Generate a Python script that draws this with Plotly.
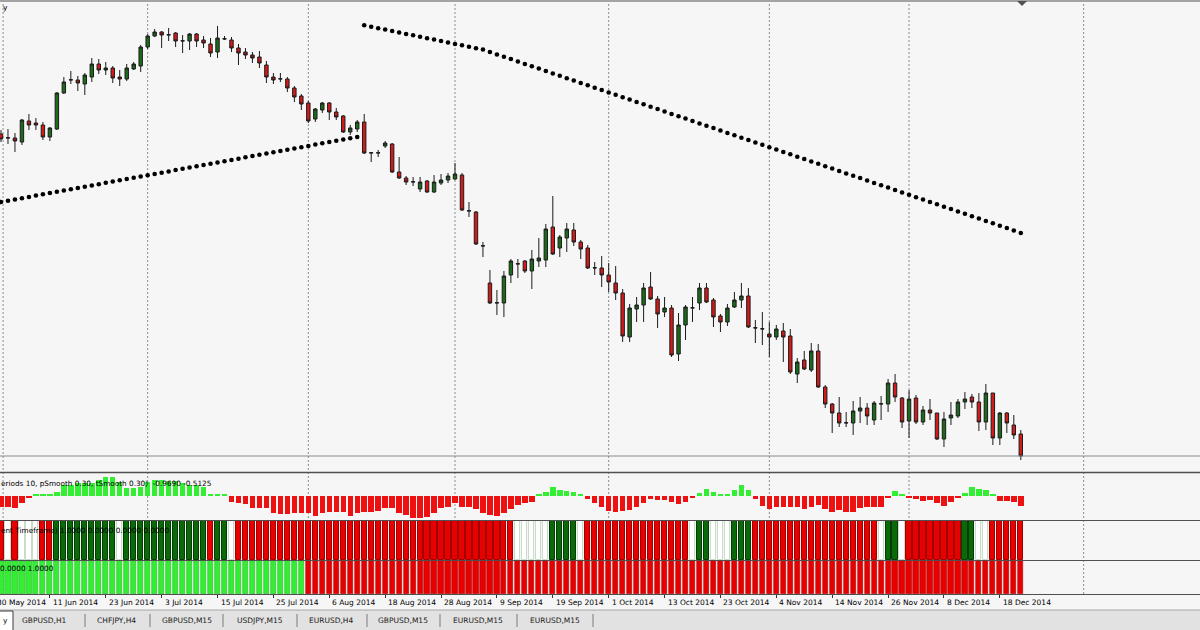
import plotly.graph_objects as go

# ---------------- data (GBPUSD daily, bar index 1 = 2 Jun 2014) ----------------
bar_idx = list(range(1, 148))

open_ = [1.6764, 1.6748, 1.6748, 1.6732, 1.6816, 1.6808, 1.6800, 1.6752, 1.6784, 1.6928,
         1.6980, 1.6980, 1.6964, 1.6992, 1.7044, 1.7020, 1.7028, 1.6992, 1.6984, 1.7024,
         1.7036, 1.7112, 1.7156, 1.7172, 1.7160, 1.7168, 1.7136, 1.7136, 1.7164, 1.7140,
         1.7124, 1.7092, 1.7144, 1.7140, 1.7108, 1.7092, 1.7080, 1.7072, 1.7040, 1.6992,
         1.6984, 1.6984, 1.6948, 1.6916, 1.6888, 1.6824, 1.6860, 1.6888, 1.6852, 1.6836,
         1.6772, 1.6784, 1.6812, 1.6688, 1.6688, 1.6716, 1.6724, 1.6612, 1.6588, 1.6572,
         1.6544, 1.6576, 1.6532, 1.6568, 1.6580, 1.6584, 1.6600, 1.6456, 1.6452, 1.6316,
         1.6168, 1.6088, 1.6088, 1.6200, 1.6244, 1.6256, 1.6216, 1.6256, 1.6260, 1.6392,
         1.6308, 1.6348, 1.6380, 1.6332, 1.6308, 1.6228, 1.6228, 1.6200, 1.6168, 1.6128,
         1.5952, 1.6064, 1.6080, 1.6152, 1.6104, 1.6052, 1.6068, 1.5884, 1.6000, 1.6068,
         1.6088, 1.6148, 1.6100, 1.6036, 1.6012, 1.6072, 1.6100, 1.6116, 1.5988, 1.5984,
         1.5964, 1.5952, 1.5976, 1.5956, 1.5804, 1.5860, 1.5820, 1.5896, 1.5752, 1.5684,
         1.5648, 1.5608, 1.5608, 1.5656, 1.5668, 1.5620, 1.5684, 1.5684, 1.5768, 1.5708,
         1.5616, 1.5708, 1.5612, 1.5660, 1.5648, 1.5544, 1.5628, 1.5636, 1.5692, 1.5712,
         1.5692, 1.5612, 1.5728, 1.5548, 1.5648, 1.5600, 1.5564]

high = [1.6780, 1.6784, 1.6768, 1.6824, 1.6844, 1.6828, 1.6812, 1.6792, 1.6932, 1.6992,
        1.7016, 1.6996, 1.7008, 1.7068, 1.7064, 1.7052, 1.7036, 1.7020, 1.7044, 1.7052,
        1.7120, 1.7164, 1.7184, 1.7176, 1.7188, 1.7172, 1.7160, 1.7168, 1.7168, 1.7156,
        1.7148, 1.7196, 1.7156, 1.7152, 1.7124, 1.7108, 1.7092, 1.7096, 1.7056, 1.7008,
        1.7008, 1.6992, 1.6956, 1.6924, 1.6896, 1.6868, 1.6892, 1.6892, 1.6868, 1.6840,
        1.6800, 1.6820, 1.6844, 1.6692, 1.6700, 1.6736, 1.6728, 1.6672, 1.6596, 1.6592,
        1.6592, 1.6580, 1.6600, 1.6604, 1.6608, 1.6648, 1.6608, 1.6492, 1.6456, 1.6332,
        1.6220, 1.6140, 1.6216, 1.6264, 1.6264, 1.6260, 1.6300, 1.6348, 1.6404, 1.6516,
        1.6360, 1.6408, 1.6408, 1.6340, 1.6320, 1.6252, 1.6276, 1.6248, 1.6236, 1.6144,
        1.6084, 1.6112, 1.6168, 1.6212, 1.6116, 1.6112, 1.6080, 1.6048, 1.6080, 1.6112,
        1.6168, 1.6168, 1.6108, 1.6044, 1.6084, 1.6132, 1.6168, 1.6148, 1.6020, 1.6052,
        1.6012, 1.6000, 1.6008, 1.5984, 1.5868, 1.5896, 1.5928, 1.5924, 1.5760, 1.5688,
        1.5712, 1.5652, 1.5696, 1.5712, 1.5688, 1.5696, 1.5716, 1.5784, 1.5804, 1.5712,
        1.5740, 1.5720, 1.5676, 1.5704, 1.5648, 1.5652, 1.5692, 1.5704, 1.5732, 1.5724,
        1.5728, 1.5764, 1.5728, 1.5652, 1.5652, 1.5640, 1.5580]

low = [1.6732, 1.6724, 1.6692, 1.6720, 1.6780, 1.6780, 1.6740, 1.6736, 1.6780, 1.6924,
       1.6964, 1.6936, 1.6920, 1.6972, 1.7004, 1.7000, 1.6968, 1.6956, 1.6976, 1.7020,
       1.7012, 1.7104, 1.7152, 1.7108, 1.7136, 1.7112, 1.7088, 1.7100, 1.7112, 1.7108,
       1.7072, 1.7068, 1.7140, 1.7092, 1.7040, 1.7064, 1.7048, 1.7028, 1.6968, 1.6964,
       1.6972, 1.6932, 1.6892, 1.6860, 1.6808, 1.6812, 1.6848, 1.6820, 1.6820, 1.6768,
       1.6760, 1.6772, 1.6684, 1.6652, 1.6672, 1.6708, 1.6608, 1.6584, 1.6560, 1.6556,
       1.6532, 1.6528, 1.6528, 1.6560, 1.6568, 1.6580, 1.6456, 1.6432, 1.6320, 1.6272,
       1.6084, 1.6040, 1.6032, 1.6168, 1.6188, 1.6208, 1.6144, 1.6232, 1.6232, 1.6280,
       1.6272, 1.6292, 1.6316, 1.6264, 1.6224, 1.6200, 1.6152, 1.6132, 1.6100, 1.5932,
       1.5932, 1.6012, 1.6012, 1.6100, 1.5988, 1.6032, 1.5872, 1.5856, 1.5940, 1.6012,
       1.6060, 1.6088, 1.5992, 1.5972, 1.5996, 1.6068, 1.6068, 1.5988, 1.5928, 1.5920,
       1.5872, 1.5940, 1.5852, 1.5804, 1.5768, 1.5820, 1.5812, 1.5748, 1.5668, 1.5568,
       1.5592, 1.5592, 1.5560, 1.5608, 1.5600, 1.5600, 1.5620, 1.5652, 1.5692, 1.5588,
       1.5548, 1.5604, 1.5600, 1.5620, 1.5540, 1.5512, 1.5600, 1.5628, 1.5664, 1.5668,
       1.5576, 1.5580, 1.5520, 1.5520, 1.5568, 1.5544, 1.5460]

close = [1.6744, 1.6749, 1.6736, 1.6820, 1.6800, 1.6800, 1.6752, 1.6788, 1.6928, 1.6972,
         1.6981, 1.6968, 1.7000, 1.7044, 1.7020, 1.7028, 1.6988, 1.6984, 1.7028, 1.7044,
         1.7112, 1.7156, 1.7172, 1.7160, 1.7161, 1.7136, 1.7137, 1.7164, 1.7136, 1.7128,
         1.7088, 1.7148, 1.7145, 1.7108, 1.7088, 1.7080, 1.7068, 1.7048, 1.6992, 1.6980,
         1.6985, 1.6948, 1.6912, 1.6884, 1.6816, 1.6864, 1.6888, 1.6852, 1.6832, 1.6772,
         1.6788, 1.6812, 1.6688, 1.6689, 1.6689, 1.6728, 1.6612, 1.6588, 1.6572, 1.6573,
         1.6572, 1.6532, 1.6572, 1.6580, 1.6596, 1.6604, 1.6460, 1.6457, 1.6324, 1.6317,
         1.6088, 1.6089, 1.6196, 1.6256, 1.6245, 1.6216, 1.6264, 1.6268, 1.6384, 1.6284,
         1.6352, 1.6384, 1.6332, 1.6304, 1.6228, 1.6229, 1.6200, 1.6172, 1.6128, 1.5956,
         1.6068, 1.6080, 1.6148, 1.6104, 1.6044, 1.6068, 1.5880, 1.6000, 1.6072, 1.6069,
         1.6148, 1.6092, 1.6032, 1.6012, 1.6068, 1.6100, 1.6116, 1.5992, 1.5989, 1.5985,
         1.5952, 1.5984, 1.5952, 1.5812, 1.5852, 1.5824, 1.5896, 1.5752, 1.5684, 1.5648,
         1.5608, 1.5609, 1.5656, 1.5668, 1.5636, 1.5688, 1.5685, 1.5768, 1.5712, 1.5612,
         1.5704, 1.5612, 1.5660, 1.5648, 1.5544, 1.5624, 1.5640, 1.5692, 1.5704, 1.5692,
         1.5612, 1.5728, 1.5548, 1.5648, 1.5608, 1.5560, 1.5476]

# dotted indicator (one dot per bar)
signal_dots = [1.6492, 1.6497, 1.6502, 1.6507, 1.6512, 1.6518, 1.6523, 1.6528, 1.6533, 1.6538,
               1.6543, 1.6548, 1.6553, 1.6558, 1.6563, 1.6569, 1.6574, 1.6579, 1.6584, 1.6589,
               1.6594, 1.6599, 1.6604, 1.6609, 1.6614, 1.6620, 1.6625, 1.6630, 1.6635, 1.6640,
               1.6645, 1.6650, 1.6655, 1.6660, 1.6665, 1.6671, 1.6676, 1.6681, 1.6686, 1.6691,
               1.6696, 1.6701, 1.6706, 1.6711, 1.6716, 1.6722, 1.6727, 1.6732, 1.6737, 1.6742,
               1.6747, 1.6752, 1.7199, 1.7193, 1.7187, 1.7182, 1.7176, 1.7170, 1.7164, 1.7159,
               1.7153, 1.7147, 1.7142, 1.7136, 1.7130, 1.7124, 1.7119, 1.7113, 1.7107, 1.7102,
               1.7092, 1.7082, 1.7073, 1.7064, 1.7054, 1.7044, 1.7035, 1.7026, 1.7016, 1.7006,
               1.6997, 1.6987, 1.6978, 1.6968, 1.6959, 1.6949, 1.6940, 1.6930, 1.6921, 1.6911,
               1.6902, 1.6892, 1.6883, 1.6873, 1.6864, 1.6854, 1.6844, 1.6835, 1.6826, 1.6816,
               1.6806, 1.6797, 1.6788, 1.6778, 1.6768, 1.6759, 1.6749, 1.6740, 1.6730, 1.6721,
               1.6711, 1.6702, 1.6692, 1.6683, 1.6673, 1.6664, 1.6654, 1.6645, 1.6635, 1.6626,
               1.6616, 1.6606, 1.6597, 1.6588, 1.6578, 1.6568, 1.6559, 1.6550, 1.6540, 1.6530,
               1.6521, 1.6511, 1.6502, 1.6492, 1.6483, 1.6473, 1.6464, 1.6454, 1.6445, 1.6435,
               1.6426, 1.6416, 1.6407, 1.6397, 1.6388, 1.6378, 1.6368]

# oscillator histogram (panel 2)
osc = [-0.57, -0.53, -0.58, -0.37, -0.06, 0.10, 0.10, 0.10, 0.22, 0.55,
       0.55, 0.63, 0.63, 0.63, 0.80, 0.97, 0.93, 0.72, 0.38, 0.38,
       0.47, 0.72, 0.80, 0.80, 0.77, 0.77, 0.63, 0.55, 0.55, 0.47,
       0.06, 0.06, 0.06, -0.28, -0.33, -0.42, -0.58, -0.58, -0.62, -0.87,
       -0.92, -0.92, -0.87, -0.87, -0.87, -0.98, -0.83, -0.78, -0.78, -0.78,
       -1.00, -0.87, -0.78, -0.78, -0.73, -0.62, -0.62, -0.87, -0.95, -1.08,
       -1.08, -1.03, -0.87, -0.62, -0.53, -0.37, -0.53, -0.53, -0.67, -0.87,
       -0.95, -1.00, -0.87, -0.67, -0.45, -0.37, -0.28, 0.06, 0.22, 0.43,
       0.30, 0.25, 0.22, 0.06, -0.15, -0.37, -0.53, -0.73, -0.78, -0.73,
       -0.70, -0.53, -0.37, -0.17, -0.20, -0.20, -0.32, -0.42, -0.28, -0.06,
       0.13, 0.35, 0.22, 0.10, 0.10, 0.30, 0.55, 0.32, -0.15, -0.48,
       -0.67, -0.57, -0.53, -0.53, -0.57, -0.65, -0.53, -0.45, -0.67, -0.78,
       -0.70, -0.78, -0.78, -0.62, -0.57, -0.57, -0.53, -0.06, 0.27, 0.06,
       -0.07, -0.17, -0.23, -0.20, -0.37, -0.48, -0.28, -0.12, 0.13, 0.43,
       0.33, 0.30, 0.06, -0.23, -0.23, -0.28, -0.51]

# panel 3 state per bar (R = down, G = up, W = neutral)
trend_state = ("RWRWWWRR" "GGGGGGGGG" "W" "GGGGGGGGGGGG" "RGGW"
               "RRRRRRRRRRRRRRRRRRRR" "RRRRRRRRRRRRRRRRRRRR"
               "WWWWW" "GGGG" "W" "RRRRRRRRRRRRRRR" "W" "GG" "WWW" "GGG"
               "RRRRRRRRRRRRRRRRRR" "W" "GG" "W" "RRRRRRRR" "GG" "WW" "RRRRR")
# panel 4 state per bar
tf_state = ("GGGGGGGGGGGGGGGGGGGGGG" "GGGGGGGGGGGGGGGGGGGGGG"
            "RRRRRRRRRRRRRRRRRRRRRRRRRR" "RRRRRRRRRRRRRRRRRRRRRRRRRR"
            "RRRRRRRRRRRRRRRRRRRRRRRRRR" "RRRRRRRRRRRRRRRRRRRRRRRRR")

date_idx = [0, 8, 16, 24, 32, 40, 48, 56, 64, 72, 80, 88, 96, 104, 112, 120, 128, 136, 144]
date_labels = ["30 May 2014", "11 Jun 2014", "23 Jun 2014", "3 Jul 2014", "15 Jul 2014",
               "25 Jul 2014", "6 Aug 2014", "18 Aug 2014", "28 Aug 2014", "9 Sep 2014",
               "19 Sep 2014", "1 Oct 2014", "13 Oct 2014", "23 Oct 2014", "4 Nov 2014",
               "14 Nov 2014", "26 Nov 2014", "8 Dec 2014", "18 Dec 2014"]
month_start_idx = [1.3, 22, 45, 66, 88, 111, 131, 156]

tab_labels = ["GBPUSD,H1", "CHFJPY,H4", "GBPUSD,M15", "USDJPY,M15",
              "EURUSD,H4", "GBPUSD,M15", "EURUSD,M15", "EURUSD,M15"]
osc_caption = "eriods 10, pSmooth 0.30, tSmooth 0.30)  -0.9690 -0.5125"
trend_caption = "ent Timeframe) 1.0000 0.0000 0.0000 0.0000"
tf_caption = "0.0000 1.0000"
title_tail = "y"

# ---------------- geometry ----------------
W, H = 1200, 630
PX_PER_BAR = 6.985
X0 = -6.0


def fx(px):
    return px / W


def fy(py):
    return 1 - py / H


def bar_px(i):
    return X0 + PX_PER_BAR * i


xr = [(0 - X0) / PX_PER_BAR, (W - X0) / PX_PER_BAR]
FONT = "DejaVu Sans"

fig = go.Figure()

# candles
fig.add_trace(go.Candlestick(
    x=bar_idx, open=open_, high=high, low=low, close=close,
    increasing=dict(fillcolor="#1b6b1b", line=dict(color="#1c1c1c", width=1)),
    decreasing=dict(fillcolor="#d21a1a", line=dict(color="#1c1c1c", width=1)),
    whiskerwidth=0, xaxis="x", yaxis="y", showlegend=False, hoverinfo="skip"))

# dotted indicator
fig.add_trace(go.Scatter(
    x=bar_idx, y=signal_dots, mode="markers",
    marker=dict(size=4.6, color="#000000"), xaxis="x", yaxis="y",
    showlegend=False, hoverinfo="skip"))

# panel 2 oscillator
fig.add_trace(go.Bar(
    x=bar_idx, y=osc, width=0.78,
    marker=dict(color=["#33ee33" if v > 0 else "#ee1111" for v in osc], line=dict(width=0)),
    xaxis="x2", yaxis="y2", showlegend=False, hoverinfo="skip"))

# panel 3
fill3 = {"R": "#e60000", "G": "#0a6a0a", "W": "#ffffff"}
edge3 = {"R": "#a00000", "G": "#033d03", "W": "#c8dcc8"}
fig.add_trace(go.Bar(
    x=bar_idx, y=[1 for s in trend_state], width=0.74,
    marker=dict(color=[fill3[s] for s in trend_state],
                line=dict(color=[edge3[s] for s in trend_state], width=1)),
    xaxis="x3", yaxis="y3", showlegend=False, hoverinfo="skip"))

# panel 4
fill4 = {"R": "#e60000", "G": "#33ee33"}
edge4 = {"R": "#b00000", "G": "#22b822"}
fig.add_trace(go.Bar(
    x=bar_idx, y=[1 for s in tf_state], width=0.74,
    marker=dict(color=[fill4[s] for s in tf_state],
                line=dict(color=[edge4[s] for s in tf_state], width=0.6)),
    xaxis="x4", yaxis="y4", showlegend=False, hoverinfo="skip"))

hidden = dict(showgrid=False, zeroline=False, showticklabels=False, showline=False, ticks="")
fig.update_layout(
    width=W, height=H, margin=dict(l=0, r=0, t=0, b=0),
    paper_bgcolor="#f6f6f6", plot_bgcolor="rgba(0,0,0,0)",
    showlegend=False, bargap=0,
    xaxis=dict(range=xr, domain=[0, 1], anchor="y", rangeslider=dict(visible=False), **hidden),
    xaxis2=dict(range=xr, domain=[0, 1], anchor="y2", matches="x", **hidden),
    xaxis3=dict(range=xr, domain=[0, 1], anchor="y3", matches="x", **hidden),
    xaxis4=dict(range=xr, domain=[0, 1], anchor="y4", matches="x",
                showgrid=False, zeroline=False, showticklabels=False, showline=False,
                ticks="outside", tickvals=date_idx, ticklen=3, tickwidth=1, tickcolor="#333333"),
    yaxis=dict(range=[1.73 - 0.0004 * 472, 1.73 - 0.0004 * 2], domain=[fy(472), fy(2)], **hidden),
    yaxis2=dict(range=[-1.2, 1.15], domain=[fy(520), fy(473)], **hidden),
    yaxis3=dict(range=[0, 1], domain=[fy(560), fy(521)], **hidden),
    yaxis4=dict(range=[0, 1], domain=[fy(594), fy(561)], **hidden),
)

shapes = []
# vertical dotted grid (month starts)
for m in month_start_idx:
    shapes.append(dict(type="line", xref="x", yref="paper", x0=m, x1=m, y0=fy(594), y1=fy(2),
                       line=dict(color="#8c8c8c", width=1, dash="2px,2px"), layer="below"))
# bid line
shapes.append(dict(type="line", xref="paper", yref="y", x0=0, x1=1, y0=close[-1], y1=close[-1],
                   line=dict(color="#8a8a8a", width=1)))
# panel borders
for py, w in [(1, 1.2), (472.5, 1.6), (520.5, 1.2), (560.5, 1.2), (594.5, 1.2)]:
    shapes.append(dict(type="line", xref="paper", yref="paper", x0=0, x1=1, y0=fy(py), y1=fy(py),
                       line=dict(color="#505050", width=w)))
# chart shift marker
shapes.append(dict(type="path", xref="paper", yref="paper",
                   path=f"M {fx(1017)} {fy(1)} L {fx(1027)} {fy(1)} L {fx(1022)} {fy(6)} Z",
                   fillcolor="#505050", line=dict(width=0)))
# tab bar
shapes.append(dict(type="rect", xref="paper", yref="paper", x0=0, x1=1, y0=0, y1=fy(610),
                   fillcolor="#e2e2e2", line=dict(width=0)))
shapes.append(dict(type="line", xref="paper", yref="paper", x0=0, x1=1, y0=fy(610), y1=fy(610),
                   line=dict(color="#a8a8a8", width=1)))
shapes.append(dict(type="rect", xref="paper", yref="paper", x0=fx(-2), x1=fx(13), y0=fy(631), y1=fy(611),
                   fillcolor="#ffffff", line=dict(color="#3c3c3c", width=1)))
tab_centers = [44, 116, 187, 260, 331, 403, 478, 555]
tab_seps = [85, 150, 223, 297, 367, 440, 517, 593]
for s in tab_seps:
    shapes.append(dict(type="line", xref="paper", yref="paper", x0=fx(s), x1=fx(s), y0=fy(627), y1=fy(614),
                       line=dict(color="#7a7a7a", width=1)))
fig.update_layout(shapes=shapes)

ann = []
for i, lab in zip(date_idx, date_labels):
    ann.append(dict(x=fx(bar_px(i) + 1), y=fy(602.5), xref="paper", yref="paper", text=lab,
                    showarrow=False, xanchor="left", yanchor="middle",
                    font=dict(family=FONT, size=7.5, color="#000000")))
for c, lab in zip(tab_centers, tab_labels):
    ann.append(dict(x=fx(c), y=fy(620), xref="paper", yref="paper", text=lab, showarrow=False,
                    xanchor="center", yanchor="middle",
                    font=dict(family=FONT, size=7.5, color="#202020")))
ann.append(dict(x=fx(1), y=fy(620), xref="paper", yref="paper", text=title_tail, showarrow=False,
                xanchor="left", yanchor="middle", font=dict(family=FONT, size=7.5, color="#202020")))
ann.append(dict(x=fx(1), y=fy(8), xref="paper", yref="paper", text=title_tail, showarrow=False,
                xanchor="left", yanchor="middle", font=dict(family=FONT, size=7.5, color="#000000")))
ann.append(dict(x=fx(-1), y=fy(483.5), xref="paper", yref="paper", text=osc_caption, showarrow=False,
                xanchor="left", yanchor="middle", font=dict(family=FONT, size=7.3, color="#000000")))
ann.append(dict(x=fx(-1), y=fy(530), xref="paper", yref="paper", text=trend_caption, showarrow=False,
                xanchor="left", yanchor="middle", font=dict(family=FONT, size=7.3, color="#000000")))
ann.append(dict(x=fx(-2), y=fy(568), xref="paper", yref="paper", text=tf_caption, showarrow=False,
                xanchor="left", yanchor="middle", font=dict(family=FONT, size=7.3, color="#000000")))
fig.update_layout(annotations=ann)

fig.write_html("out.html", config={"displayModeBar": False},
               post_script="document.body.style.margin='0px';document.body.style.overflow='hidden';")
